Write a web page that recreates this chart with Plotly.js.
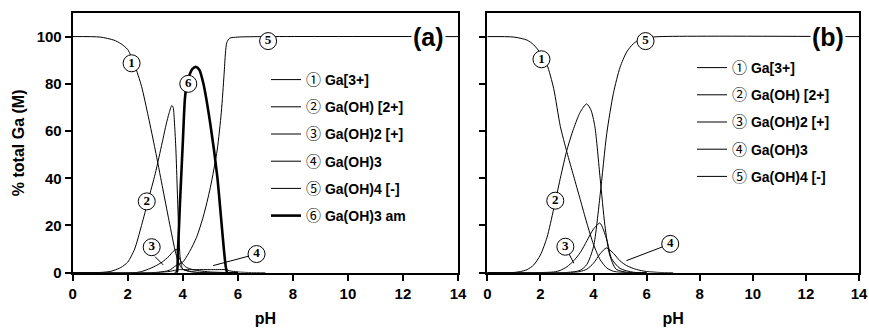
<!DOCTYPE html>
<html><head><meta charset="utf-8">
<script src="https://cdn.plot.ly/plotly-3.0.1.min.js"></script>
<style>html,body{margin:0;padding:0;background:#fff}</style>
</head><body>
<div id="chart" style="width:869px;height:331px"></div>
<script>
// ---------- Panel (a): with Ga(OH)3 am precipitation ----------
const a1_x = [0, 1, 1.5, 1.75, 2, 2.25, 2.5, 2.75, 3, 3.25, 3.5, 3.75, 3.9, 4, 4.25, 4.5, 5, 6];
const a1_y = [100, 99.8, 98.5, 97, 94.5, 88, 79, 66, 52, 37, 22, 8, 3, 1.5, 0.5, 0.1, 0, 0];
const a2_x = [0, 1, 1.35, 1.5, 1.75, 2, 2.25, 2.5, 2.75, 3, 3.25, 3.4, 3.5, 3.6, 3.65, 3.7, 3.75, 3.8, 3.85, 3.9, 3.95, 4, 4.25, 4.5, 5, 6];
const a2_y = [0, 0.1, 0.5, 1, 2.2, 4.5, 10, 20, 31, 42, 55, 63, 67.5, 70.8, 70, 63, 52, 35, 18, 7, 3, 1.5, 0.6, 0.2, 0, 0];
const a3_x = [0, 2.25, 2.5, 2.75, 3, 3.25, 3.5, 3.65, 3.77, 3.85, 3.95, 4.1, 4.3, 4.6, 5, 5.5, 6];
const a3_y = [0, 0, 0.5, 1.5, 2.8, 4.5, 7, 9, 9.9, 7, 4.5, 2.5, 1.5, 0.8, 0.3, 0.1, 0];
const a4_x = [0, 3, 3.25, 3.5, 3.75, 3.85, 4, 4.5, 5, 5.5, 5.6, 5.7, 6, 6.5, 7];
const a4_y = [0, 0, 0.2, 0.5, 1.1, 1.3, 1.3, 1.3, 1.3, 1.3, 1.2, 0.8, 0.3, 0.05, 0];
const a5_x = [0, 3, 3.5, 3.75, 3.85, 4, 4.25, 4.5, 4.75, 5, 5.25, 5.4, 5.5, 5.55, 5.6, 5.7, 6, 7, 14];
const a5_y = [0, 0.1, 1, 3, 3.5, 4.5, 9, 15, 24, 36, 52, 68, 84, 93, 97.5, 99.3, 99.8, 100, 100];
const a6_x = [3.7, 3.78, 3.82, 3.9, 4, 4.08, 4.15, 4.25, 4.35, 4.47, 4.6, 4.75, 5, 5.25, 5.4, 5.5, 5.57, 5.62, 6];
const a6_y = [0, 0, 8, 30, 55, 74, 80, 84, 86.3, 87.2, 86, 80, 63, 41, 22, 9, 2, 0, 0];

// ---------- Panel (b): no precipitation ----------
const b1_x = [0, 1, 1.5, 1.75, 2, 2.25, 2.5, 2.75, 3, 3.25, 3.5, 3.75, 4, 4.25, 4.5, 4.75, 5, 5.5, 6];
const b1_y = [100, 99.8, 98.5, 96.5, 93, 88, 78, 62, 51, 41, 31, 21, 12, 5.5, 2, 0.6, 0.2, 0, 0];
const b2_x = [0, 1, 1.25, 1.5, 1.75, 2, 2.25, 2.5, 2.75, 3, 3.25, 3.5, 3.74, 3.9, 4.05, 4.25, 4.43, 4.61, 4.85, 5.25, 6];
const b2_y = [0, 0.1, 0.5, 1.3, 3.3, 7.5, 15, 27, 40, 52, 61, 68, 71.5, 69, 62, 40, 20, 7.5, 1.5, 0.2, 0];
const b3_x = [0, 2.5, 2.75, 3, 3.25, 3.5, 3.75, 4, 4.24, 4.5, 4.68, 5, 5.5, 6];
const b3_y = [0, 0.3, 1, 2.5, 5, 8.5, 13.5, 18.5, 21, 14, 6, 1.8, 0.2, 0];
const b4_x = [0, 3.25, 3.5, 3.75, 4, 4.25, 4.49, 4.75, 5, 5.25, 5.5, 5.75, 6, 6.5, 7];
const b4_y = [0, 0.1, 0.5, 1.5, 4, 8, 10.5, 8.2, 5, 3, 1.8, 1, 0.5, 0.1, 0];
const b5_x = [0, 3, 3.5, 3.75, 4, 4.25, 4.5, 4.75, 5, 5.25, 5.5, 5.75, 6, 6.5, 14];
const b5_y = [0, 0.1, 1, 3.5, 11, 33, 59, 76, 87, 93.5, 97, 98.8, 99.5, 100, 100];

// ---------- Names ----------
const circled = ['①', '②', '③', '④', '⑤', '⑥'];
const species = ['Ga[3+]', 'Ga(OH) [2+]', 'Ga(OH)2 [+]', 'Ga(OH)3', 'Ga(OH)4 [-]', 'Ga(OH)3 am'];

// ---------- Curve labels (circled numbers on the curves) ----------
const a_labelX = [2.14, 2.69, 2.87, 6.68, 7.1, 4.2];
const a_labelY = [88.7, 30.2, 10.8, 7.9, 98.1, 80];
const a_labelT = ['1', '2', '3', '4', '5', '6'];
const b_labelX = [2.04, 2.56, 2.94, 6.89, 5.96];
const b_labelY = [90.4, 30.5, 11, 12.2, 98.1];
const b_labelT = ['1', '2', '3', '4', '5'];
// leader lines [x0, y0, x1, y1]
const a_leaders = [[2.99, 6.8, 3.29, 3.3], [6.68, 7.9, 5.1, 3.0]];
const b_leaders = [[2.94, 11, 3.26, 4.0], [6.89, 12.2, 5.24, 5.1]];

const aData = [[a1_x, a1_y], [a2_x, a2_y], [a3_x, a3_y], [a4_x, a4_y], [a5_x, a5_y], [a6_x, a6_y]];
const bData = [[b1_x, b1_y], [b2_x, b2_y], [b3_x, b3_y], [b4_x, b4_y], [b5_x, b5_y]];

function nm(i) {
  return '<span style="font-family:Noto Sans CJK JP;font-weight:normal;font-size:15px">' + circled[i] + '</span> ' + species[i];
}

const traces = [];
aData.forEach((d, i) => {
  traces.push({
    type: 'scatter', mode: 'lines', x: d[0], y: d[1], name: nm(i),
    xaxis: 'x', yaxis: 'y', legend: 'legend', legendgroup: 'a' + i,
    line: {color: '#000', width: i === 5 ? 2.6 : 1, shape: 'spline', smoothing: 0.7}
  });
});
bData.forEach((d, i) => {
  traces.push({
    type: 'scatter', mode: 'lines', x: d[0], y: d[1], name: nm(i),
    xaxis: 'x2', yaxis: 'y2', legend: 'legend2', legendgroup: 'b' + i,
    line: {color: '#000', width: 1, shape: 'spline', smoothing: 0.7}
  });
});
function labelTrace(xs, ys, ts, xa, ya) {
  return {
    type: 'scatter', mode: 'markers+text', x: xs, y: ys, text: ts,
    xaxis: xa, yaxis: ya, showlegend: false, cliponaxis: false, hoverinfo: 'skip',
    textposition: 'middle center',
    textfont: {family: 'Liberation Serif, Times New Roman, serif', size: 13, color: '#000', weight: 'bold'},
    marker: {size: 17, color: '#fff', line: {color: '#000', width: 1}}
  };
}
traces.push(labelTrace(a_labelX, a_labelY, a_labelT, 'x', 'y'));
traces.push(labelTrace(b_labelX, b_labelY, b_labelT, 'x2', 'y2'));

const shapes = [];
a_leaders.forEach(l => shapes.push({type: 'line', xref: 'x', yref: 'y', x0: l[0], y0: l[1], x1: l[2], y1: l[3], layer: 'below', line: {color: '#000', width: 1}}));
b_leaders.forEach(l => shapes.push({type: 'line', xref: 'x2', yref: 'y2', x0: l[0], y0: l[1], x1: l[2], y1: l[3], layer: 'below', line: {color: '#000', width: 1}}));

const W = 869, H = 331;
const yDom = [1 - 272.7 / H, 1 - 13 / H];
const common = {
  showgrid: false, zeroline: false, showline: true, linewidth: 2, linecolor: '#000', mirror: true,
  ticks: 'outside', ticklen: 6, tickwidth: 2, tickcolor: '#000',
  tickfont: {size: 15, weight: 'bold', color: '#000'}
};
const xTicks = [0, 2, 4, 6, 8, 10, 12, 14];
const yTicks = [0, 20, 40, 60, 80, 100];

const legendCommon = {
  xanchor: 'left', yanchor: 'top', bgcolor: 'rgba(0,0,0,0)', borderwidth: 0,
  font: {size: 14, weight: 'bold', color: '#000'}, tracegroupgap: 6, itemwidth: 30, traceorder: 'grouped'
};

const layout = {
  width: W, height: H,
  margin: {l: 0, r: 0, t: 0, b: 0},
  paper_bgcolor: '#fff', plot_bgcolor: '#fff',
  font: {family: 'Liberation Sans, Arial, sans-serif', weight: 'bold', color: '#000'},
  showlegend: true,
  xaxis: Object.assign({}, common, {domain: [72.7 / W, 458 / W], range: [0, 14], tickvals: xTicks, anchor: 'y',
    title: {text: 'pH', font: {size: 16, weight: 'bold'}, standoff: 12}}),
  yaxis: Object.assign({}, common, {domain: yDom, range: [0, 110], tickvals: yTicks, anchor: 'x',
    title: {text: '% total Ga (M)', font: {size: 16, weight: 'bold'}, standoff: 8}}),
  xaxis2: Object.assign({}, common, {domain: [487.3 / W, 859 / W], range: [0, 14], tickvals: xTicks, anchor: 'y2',
    title: {text: 'pH', font: {size: 16, weight: 'bold'}, standoff: 12}}),
  yaxis2: Object.assign({}, common, {domain: yDom, range: [0, 110], tickvals: yTicks, anchor: 'x2', showticklabels: false}),
  legend: Object.assign({}, legendCommon, {x: 266 / W, y: 1 - 64 / H}),
  legend2: Object.assign({}, legendCommon, {x: 692 / W, y: 1 - 52 / H}),
  shapes: shapes,
  annotations: [
    {xref: 'x', yref: 'y', x: 12.93, y: 100, text: '(a)', showarrow: false, bgcolor: '#fff',
     font: {size: 25, weight: 'bold', color: '#000'}, borderpad: 1},
    {xref: 'x2', yref: 'y2', x: 12.84, y: 100, text: '(b)', showarrow: false, bgcolor: '#fff',
     font: {size: 25, weight: 'bold', color: '#000'}, borderpad: 1}
  ]
};

Plotly.newPlot('chart', traces, layout, {displayModeBar: false, staticPlot: true});
</script>
</body></html>
